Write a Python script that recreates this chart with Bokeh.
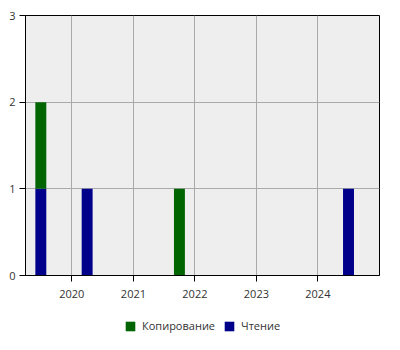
from datetime import datetime
from bokeh.plotting import figure
from bokeh.layouts import column
from bokeh.models import (ColumnDataSource, FixedTicker, DatetimeTickFormatter,
                          Legend, LegendItem, Range1d)
from bokeh.embed import file_html
from bokeh.resources import INLINE

# ---- data ----
dates = ["2019-07-01", "2020-04-01", "2021-10-01", "2024-07-01"]
copying = [1, 0, 1, 0]   # Копирование
reading = [1, 1, 0, 1]   # Чтение
series_labels = ["Копирование", "Чтение"]
year_ticks = [2020, 2021, 2022, 2023, 2024]
y_ticks = [0, 1, 2, 3]
x_start, x_end = "2019-04-01", "2025-01-01"

GREEN = "#006400"
BLUE = "#00008B"
FONT = "Open Sans"
TXT = "#333333"

def ms(s):
    return datetime.strptime(s, "%Y-%m-%d").timestamp() * 1000.0

src = ColumnDataSource(dict(
    x=[ms(d) for d in dates],
    read=reading,
    copy=copying,
))

p = figure(frame_width=354, frame_height=260, x_axis_type="datetime",
           output_backend="svg", toolbar_location=None,
           min_border_left=25, min_border_right=21, min_border_top=15,
           min_border_bottom=30)
p.x_range = Range1d(ms(x_start), ms(x_end))
p.y_range = Range1d(0, 3)

bar_w = 65 * 86400000
r = p.vbar_stack(["read", "copy"], x="x", width=bar_w, color=[BLUE, GREEN],
                 line_color=None, source=src)

p.background_fill_color = "#eeeeee"
p.border_fill_color = "white"
p.outline_line_color = "black"
p.outline_line_width = 1

p.xaxis.ticker = FixedTicker(ticks=[ms(f"{y}-01-01") for y in year_ticks])
p.xaxis.formatter = DatetimeTickFormatter(years="%Y", months="%Y", days="%Y",
                                          hours="%Y", hourmin="%Y")
p.yaxis.ticker = FixedTicker(ticks=y_ticks)

for ax in (p.xaxis[0], p.yaxis[0]):
    ax.axis_line_color = "black"
    ax.major_tick_line_color = "black"
    ax.major_tick_out = 6
    ax.major_tick_in = 0
    ax.minor_tick_line_color = None
    ax.major_label_text_font = FONT
    ax.major_label_text_font_size = "11px"
    ax.major_label_text_color = TXT
p.yaxis.major_label_standoff = 4
p.xaxis.major_label_standoff = 8

p.grid.grid_line_color = "#aaaaaa"
p.grid.grid_line_width = 1

# ---- legend strip below the chart ----
lf = figure(width=400, height=45, output_backend="svg", toolbar_location=None,
            x_axis_location=None, y_axis_location=None,
            min_border=0, x_range=Range1d(0, 1), y_range=Range1d(0, 1))
lf.outline_line_color = None
lf.grid.visible = False
lf.background_fill_color = "white"
# proxy glyphs for the legend only (placed outside the visible range)
g_copy = lf.vbar(x=[5], top=[0], width=0.1, color=GREEN, line_color=None)
g_read = lf.vbar(x=[5], top=[0], width=0.1, color=BLUE, line_color=None)

legend = Legend(items=[LegendItem(label=series_labels[0], renderers=[g_copy]),
                       LegendItem(label=series_labels[1], renderers=[g_read])],
                orientation="horizontal", location=(99, 17),
                glyph_width=12, glyph_height=12, label_standoff=6, spacing=8,
                label_text_font=FONT, label_text_font_size="11px",
                label_text_color=TXT, border_line_color=None,
                background_fill_alpha=0, margin=0, padding=0,
                label_height=12)
lf.add_layout(legend, "center")

layout = column(p, lf, spacing=0)
open("out.html", "w").write(file_html(layout, INLINE))
